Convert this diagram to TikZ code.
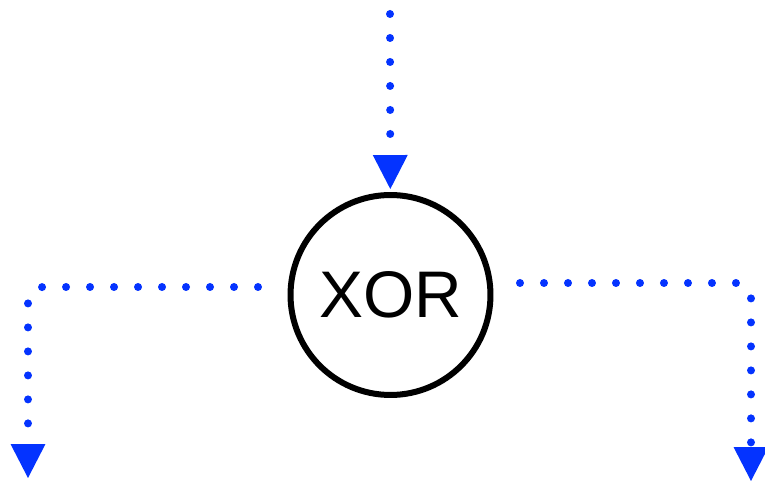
\documentclass[tikz,border=0pt]{standalone}
\usepackage{fontspec}
\setmainfont{Liberation Sans}
\usetikzlibrary{arrows.meta}
\definecolor{flowblue}{HTML}{0433FF}

\begin{document}
\begin{tikzpicture}[x=0.02cm,y=-0.02cm]
  \tikzstyle{gate}=[circle,draw,line width=0.12cm,minimum size=4cm,inner sep=0pt,
                    font=\fontsize{37.5}{40}\selectfont];
  \tikzstyle{flow}=[draw=flowblue,line width=0.16cm,line cap=round,
                    dash pattern=on 0pt off 0.48cm,rounded corners=0.3cm,
                    -{Triangle[width=0.7cm,length=0.68cm,line width=0pt,fill=flowblue]}];
  \useasboundingbox (0,0) rectangle (765,482);
  \node[gate] (xor) at (390.5,295) {XOR};
  \coordinate (in) at (390,14);
  \coordinate (l0) at (258,287);
  \coordinate (l1) at (28,478);
  \coordinate (r0) at (520,283);
  \coordinate (r1) at (751,481);
  \draw[flow,shorten >=0.06cm] (in) -- (xor);
  \draw[flow] (l0) -| (l1);
  \draw[flow] (r0) -| (r1);
\end{tikzpicture}
\end{document}
